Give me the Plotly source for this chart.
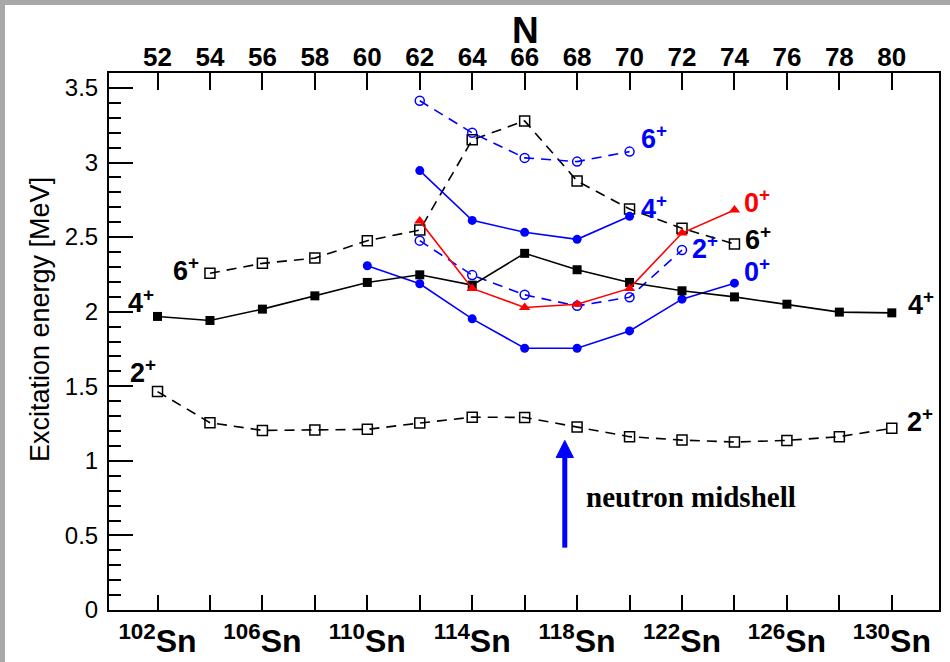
import plotly.graph_objects as go

# ---------------- data (excitation energies in MeV vs neutron number N) ----------------
N_all = [52, 54, 56, 58, 60, 62, 64, 66, 68, 70, 72, 74, 76, 78, 80]
E_2plus = [1.464, 1.256, 1.204, 1.206, 1.211, 1.253, 1.293, 1.291, 1.226, 1.162,
           1.139, 1.126, 1.137, 1.162, 1.218]
E_4plus = [1.968, 1.941, 2.017, 2.106, 2.196, 2.247, 2.178, 2.391, 2.281, 2.196,
           2.140, 2.099, 2.050, 1.997, 1.992]

N_6plus = [54, 56, 58, 60, 62, 64, 66, 68, 70, 72, 74]
E_6plus = [2.257, 2.324, 2.359, 2.476, 2.547, 3.152, 3.279, 2.876, 2.688, 2.559, 2.453]

N_int_6 = [62, 64, 66, 68, 70]
E_int_6 = [3.414, 3.199, 3.031, 3.006, 3.073]

N_int_4 = [62, 64, 66, 68, 70]
E_int_4 = [2.946, 2.612, 2.532, 2.485, 2.639]

N_int_2 = [62, 64, 66, 68, 70, 72]
E_int_2 = [2.476, 2.245, 2.113, 2.039, 2.097, 2.413]

N_int_0 = [60, 62, 64, 66, 68, 70, 72, 74]
E_int_0 = [2.308, 2.187, 1.952, 1.755, 1.755, 1.871, 2.084, 2.191]

N_red_0 = [62, 64, 66, 68, 70, 72, 74]
E_red_0 = [2.608, 2.156, 2.028, 2.050, 2.156, 2.527, 2.682]

# axis tick labels
N_ticks = list(range(52, 81, 2))
top_labels = [str(n) for n in N_ticks]
N_iso = list(range(52, 81, 4))
N_iso_minor = list(range(54, 80, 4))
bottom_labels = [f"<sup>{n + 50}</sup>Sn" for n in N_iso]
y_ticks = [0, 0.5, 1, 1.5, 2, 2.5, 3, 3.5]
y_labels = ["0", "0.5", "1", "1.5", "2", "2.5", "3", "3.5"]

# midshell arrow: tail and head (N, MeV)
ARROW_N = 67.53
ARROW_TAIL, ARROW_HEAD = 0.418, 1.137

# ---------------- layout geometry ----------------
W, H = 950, 662
ML, MR, MT, MB = 109, 11, 73, 52
X_RANGE = [50.15, 81.8]
Y_RANGE = [0, 3.6]
PW, PH = W - ML - MR, H - MT - MB


def px_x(px):
    return (px - ML) / PW


def px_y(py):
    return (H - MB - py) / PH


BOLD_NARROW = "Liberation Sans Narrow, Liberation Sans, Arial"
SANS = "Liberation Sans, Arial"
BLUE = "#0000ff"
RED = "#ff0000"
DASH = "10px,7px"

fig = go.Figure()


def add_series(x, y, color, symbol, size, dash=None, open_marker=False):
    fig.add_trace(go.Scatter(
        x=x, y=y, mode="lines+markers", showlegend=False,
        line=dict(color=color, width=1.6, dash=dash if dash else "solid"),
        marker=dict(symbol=symbol, size=size, color=color,
                    line=dict(color=color, width=1.5 if open_marker else 0)),
    ))


add_series(N_all, E_2plus, "black", "square-open", 10, dash=DASH, open_marker=True)
add_series(N_6plus, E_6plus, "black", "square-open", 10, dash=DASH, open_marker=True)
add_series(N_int_6, E_int_6, BLUE, "circle-open", 9, dash=DASH, open_marker=True)
add_series(N_int_2, E_int_2, BLUE, "circle-open", 9, dash=DASH, open_marker=True)
add_series(N_int_4, E_int_4, BLUE, "circle", 9)
add_series(N_int_0, E_int_0, BLUE, "circle", 9)
add_series(N_all, E_4plus, "black", "square", 9)
add_series(N_red_0, E_red_0, RED, "triangle-up", 10)

# invisible trace carrying the top N axis
fig.add_trace(go.Scatter(x=[N_ticks[0]], y=[None], xaxis="x2", showlegend=False,
                         hoverinfo="skip"))

# ---------------- spin labels ----------------
# (text, colour, x anchor in N, y in MeV, xanchor)
spin_labels = [
    ("4", "black", 51.95, 2.045, "right"),
    ("6", "black", 53.66, 2.26, "right"),
    ("2", "black", 52.0, 1.574, "right"),
    ("6", BLUE, 70.35, 3.145, "left"),
    ("4", BLUE, 70.35, 2.675, "left"),
    ("0", RED, 74.28, 2.715, "left"),
    ("6", "black", 74.32, 2.47, "left"),
    ("2", BLUE, 72.30, 2.405, "left"),
    ("0", BLUE, 74.28, 2.252, "left"),
    ("4", "black", 80.53, 2.033, "left"),
    ("2", "black", 80.50, 1.248, "left"),
]
annotations = []
for txt, col, xa, ya, anc in spin_labels:
    annotations.append(dict(
        x=xa, y=ya, xref="x", yref="y", text=f"{txt}<sup>+</sup>", showarrow=False,
        xanchor=anc, yanchor="middle", yshift=4,
        font=dict(family=SANS, size=27, color=col, weight="bold"),
    ))

annotations.append(dict(
    x=72.35, y=0.76, xref="x", yref="y", text="neutron midshell", showarrow=False,
    xanchor="center", yanchor="middle",
    font=dict(family="Liberation Serif, Times New Roman, serif", size=29, color="black",
              weight="bold"),
))

# axis titles
annotations.append(dict(
    x=px_x(40), y=px_y(320), xref="paper", yref="paper", text="Excitation energy [MeV]",
    textangle=-90, showarrow=False, xanchor="center", yanchor="middle",
    font=dict(family=SANS, size=27, color="black"),
))
annotations.append(dict(
    x=px_x(525), y=px_y(31), xref="paper", yref="paper", text="N", showarrow=False,
    xanchor="center", yanchor="middle",
    font=dict(family=BOLD_NARROW, size=37, color="black", weight="bold"),
))

# arrow drawn as a thick shaft plus a filled triangular head
head_len = 0.115  # MeV
head_half = 0.33  # N units
shapes = [
    dict(type="line", xref="x", yref="y", x0=ARROW_N, x1=ARROW_N,
         y0=ARROW_TAIL, y1=ARROW_HEAD - head_len + 0.01,
         line=dict(color=BLUE, width=5)),
    dict(type="path", xref="x", yref="y",
         path=(f"M {ARROW_N - head_half} {ARROW_HEAD - head_len} "
               f"L {ARROW_N + head_half} {ARROW_HEAD - head_len} "
               f"L {ARROW_N} {ARROW_HEAD} Z"),
         fillcolor=BLUE, line=dict(color=BLUE, width=1)),
    # grey window border along the left and top edges
    dict(type="rect", xref="paper", yref="paper", x0=px_x(0), x1=px_x(5),
         y0=px_y(H), y1=px_y(0), fillcolor="#a8a8a8", line=dict(width=0), layer="above"),
    dict(type="rect", xref="paper", yref="paper", x0=px_x(0), x1=px_x(W),
         y0=px_y(5), y1=px_y(0), fillcolor="#a8a8a8", line=dict(width=0), layer="above"),
]

fig.update_layout(
    width=W, height=H,
    margin=dict(l=ML, r=MR, t=MT, b=MB, pad=0, autoexpand=False),
    paper_bgcolor="white", plot_bgcolor="white",
    showlegend=False,
    annotations=annotations,
    shapes=shapes,
    xaxis=dict(
        range=X_RANGE, showgrid=False, zeroline=False, automargin=False,
        showline=True, linecolor="black", linewidth=2, mirror=True,
        ticks="inside", ticklen=15, tickwidth=1.5, tickcolor="black",
        tickvals=N_iso, ticktext=bottom_labels,
        tickfont=dict(family=BOLD_NARROW, size=32, color="black", weight="bold"),
        ticklabelstandoff=2,
        minor=dict(ticks="inside", ticklen=15, tickwidth=1.5, tickcolor="black",
                   tickvals=N_iso_minor),
    ),
    xaxis2=dict(
        range=X_RANGE, overlaying="x", side="top", anchor="y", automargin=False,
        showgrid=False, zeroline=False, showline=False,
        ticks="inside", ticklen=17, tickwidth=1.5, tickcolor="black",
        tickvals=N_ticks, ticktext=top_labels,
        tickfont=dict(family=BOLD_NARROW, size=26, color="black", weight="bold"),
        ticklabelstandoff=1,
    ),
    yaxis=dict(
        range=Y_RANGE, showgrid=False, zeroline=False, automargin=False,
        showline=True, linecolor="black", linewidth=2, mirror=True,
        ticks="inside", ticklen=24, tickwidth=1.5, tickcolor="black",
        tickvals=y_ticks, ticktext=y_labels,
        tickfont=dict(family=SANS, size=24, color="black"),
        minor=dict(ticks="inside", ticklen=12, tickwidth=1.5, tickcolor="black",
                   tickvals=[round(i * 0.1, 1) for i in range(36)]),
        ticklabelstandoff=4,
    ),
)

fig.write_html("out.html")
